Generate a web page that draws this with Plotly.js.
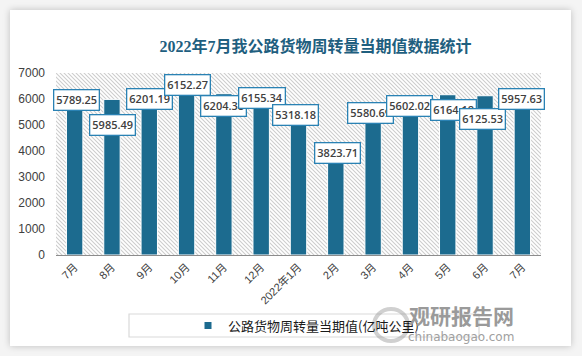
<!DOCTYPE html>
<html>
<head>
<meta charset="utf-8">
<script src="https://cdn.plot.ly/plotly-3.0.1.min.js"></script>
<style>
  html, body { margin: 0; padding: 0; background: #f4f4f4; }
  #card { position: absolute; left: 10px; top: 10px; width: 561px; height: 336px; background: #ffffff;
          box-shadow: 0 0 7px rgba(0,0,0,0.22); }
  #chart { position: absolute; left: 0; top: 0; width: 582px; height: 356px; }
</style>
</head>
<body>
<div id="card"></div>
<div id="chart"></div>
<script>
// ---- data ----
const categories = ["7月","8月","9月","10月","11月","12月","2022年1月","2月","3月","4月","5月","6月","7月"];
const values = [5789.25, 5985.49, 6201.19, 6152.27, 6204.38, 6155.34, 5318.18, 3823.71, 5580.69, 5602.02, 6164.18, 6125.53, 5957.63];
const seriesName = "公路货物周转量当期值(亿吨公里)";
const chartTitle = "2022年7月我公路货物周转量当期值数据统计";
const yTicks = [0, 1000, 2000, 3000, 4000, 5000, 6000, 7000];

// label callout offsets (pixels) relative to bar top
const labelDX = [2.3, 0.2, -0.2, 0.8, -0.3, 1.3, -2.8, 1.8, -3.1, -0.5, 5.8, -2.1, -1.2];
const labelDY = [4.9, -25.4, -5, 10.3, -12.8, -3.1, 1.4, 2.2, -3.2, 3.8, -14.8, -23.5, 1.1];

const xIdx = categories.map((c, i) => i);
const barColor = "#1c6b8f";

const hatchSvg = "<svg xmlns='http://www.w3.org/2000/svg' width='485' height='182'>" +
  "<defs><pattern id='p' width='4' height='4' patternUnits='userSpaceOnUse'>" +
  "<path d='M-1,-1 L5,5 M-1,3 L1,5 M3,-1 L5,1' stroke='#cdcdcd' stroke-width='1.1'/></pattern></defs>" +
  "<rect width='485' height='182' fill='#ffffff'/><rect width='485' height='182' fill='url(#p)'/></svg>";
const hatchURI = "data:image/svg+xml;charset=utf-8," + encodeURIComponent(hatchSvg);

const traces = [
  {
    type: "bar",
    x: xIdx,
    y: values,
    name: seriesName,
    showlegend: false,
    marker: { color: barColor, line: { color: "#ffffff", width: 1 } },
    hoverinfo: "x+y"
  },
  {
    type: "scatter",
    mode: "markers",
    x: [null],
    y: [null],
    name: seriesName,
    showlegend: true,
    marker: { symbol: "square", size: 7, color: barColor }
  }
];

const annotations = values.map((v, i) => ({
  x: xIdx[i], y: v, xref: "x", yref: "y",
  text: v.toFixed(2),
  showarrow: false,
  xanchor: "center", yanchor: "middle",
  xshift: labelDX[i], yshift: labelDY[i],
  bgcolor: "#ffffff",
  bordercolor: "#2a82b4",
  borderwidth: 1.3,
  borderpad: 2,
  font: { family: "Open Sans, Liberation Sans, sans-serif", size: 11, color: "#404040", weight: 600 }
}));

// watermark text
annotations.push({
  xref: "paper", yref: "paper", x: (461 - 56) / 485, y: (255 - 315) / 182,
  text: "观研报告网", showarrow: false, xanchor: "center", yanchor: "middle",
  font: { family: "Noto Sans CJK SC", size: 21, color: "#9a9a9a", weight: 700 }
});
annotations.push({
  xref: "paper", yref: "paper", x: (461 - 56) / 485, y: (255 - 337) / 182,
  text: "chinabaogao.com", showarrow: false, xanchor: "center", yanchor: "middle",
  font: { family: "DejaVu Sans, Liberation Sans", size: 12, color: "#a0a0a0" }
});

const layout = {
  width: 582, height: 356,
  paper_bgcolor: "rgba(0,0,0,0)",
  plot_bgcolor: "rgba(0,0,0,0)",
  margin: { l: 56, r: 41, t: 73, b: 101, pad: 0 },
  title: {
    text: chartTitle,
    x: 315.5 / 582, xref: "container", xanchor: "center",
    y: 1 - 46 / 356, yref: "container", yanchor: "middle",
    font: { family: "Liberation Serif, Noto Sans CJK SC, serif", size: 16, color: "#1f5f7f", weight: 700 }
  },
  bargap: 0.56,
  xaxis: {
    range: [-0.5, categories.length - 0.5],
    tickmode: "array",
    tickvals: xIdx,
    ticktext: categories,
    tickangle: -45,
    showgrid: false, zeroline: false,
    showline: true, linecolor: "#8c8c8c", linewidth: 1.3,
    ticks: "",
    tickfont: { family: "Liberation Sans, Noto Sans CJK SC, sans-serif", size: 11, color: "#404040" }
  },
  yaxis: {
    range: [0, 7000],
    tickmode: "array",
    tickvals: yTicks,
    ticktext: yTicks.map(String),
    showgrid: false, zeroline: false, showline: false,
    ticks: "",
    ticklabelstandoff: 10,
    tickfont: { family: "Liberation Sans, sans-serif", size: 12, color: "#404040" }
  },
  images: [{
    source: hatchURI, xref: "paper", yref: "paper",
    x: 0, y: 1, sizex: 1, sizey: 1, sizing: "stretch",
    xanchor: "left", yanchor: "top", layer: "below"
  }],
  shapes: [
    {
      type: "rect", xref: "paper", yref: "paper",
      x0: (129 - 56) / 485, x1: (479 - 56) / 485,
      y0: (255 - 337) / 182, y1: (255 - 314) / 182,
      line: { color: "#d9d9d9", width: 1.2 }, fillcolor: "rgba(0,0,0,0)", layer: "below"
    },
    {
      type: "circle", xref: "paper", yref: "paper",
      x0: (374 - 56) / 485, x1: (408 - 56) / 485,
      y0: (255 - 341) / 182, y1: (255 - 309) / 182,
      line: { color: "rgba(150,150,150,0.45)", width: 4 }, fillcolor: "rgba(0,0,0,0)", layer: "above"
    }
  ],
  showlegend: true,
  legend: {
    orientation: "h",
    x: (306 - 56) / 485, xanchor: "center",
    y: (255 - 325.5) / 182, yanchor: "middle",
    bgcolor: "rgba(0,0,0,0)",
    borderwidth: 0,
    font: { family: "Noto Sans CJK SC, sans-serif", size: 13, color: "#1a1a1a" },
    itemwidth: 30
  },
  annotations: annotations
};

Plotly.newPlot("chart", traces, layout, { displayModeBar: false, staticPlot: true });
</script>
</body>
</html>
